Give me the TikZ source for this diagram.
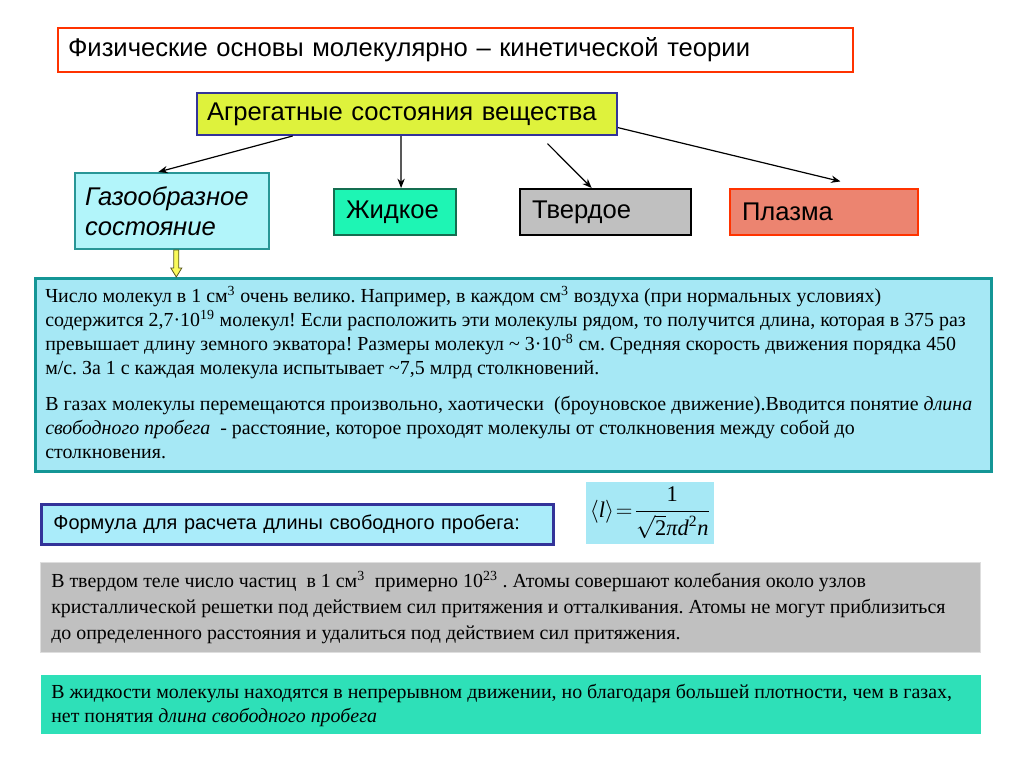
\documentclass[tikz,border=0pt]{standalone}
\usepackage{amsmath}
\usepackage{fontspec}
\setmainfont{Liberation Serif}
\setsansfont{Liberation Sans}
\usetikzlibrary{calc,arrows.meta}
\frenchspacing
\definecolor{titlered}{RGB}{255,51,0}
\definecolor{aggfill}{RGB}{222,242,60}
\definecolor{navy}{RGB}{51,51,153}
\definecolor{gasfill}{RGB}{178,245,250}
\definecolor{teal1}{RGB}{40,150,150}
\definecolor{liqfill}{RGB}{30,245,180}
\definecolor{liqdraw}{RGB}{20,110,80}
\definecolor{solfill}{RGB}{192,192,192}
\definecolor{plfill}{RGB}{236,132,112}
\definecolor{bigfill}{RGB}{166,232,245}
\definecolor{bigdraw}{RGB}{20,150,150}
\definecolor{formfill}{RGB}{170,236,250}
\definecolor{grayborder}{RGB}{222,222,222}
\definecolor{greenfill}{RGB}{46,224,184}
\definecolor{yfill}{RGB}{250,250,90}
\definecolor{ydraw}{RGB}{90,90,30}
\tikzset{
  box/.style={anchor=north west, align=left, inner ysep=0pt, line width=1.5pt},
  hdr/.style={font=\sffamily\fontsize{19.2}{23}\selectfont},
  lbl/.style={font=\sffamily\fontsize{19.2}{22.5}\selectfont},
  txt/.style={anchor=base west, inner sep=0pt, font=\fontsize{14.93}{18}\selectfont},
  conn/.style={-{Stealth[length=7pt,width=5.5pt]}, line width=0.9pt, black},
  yarrow/.style={fill=yfill, draw=ydraw, line width=0.6pt}
}
\begin{document}
\begin{tikzpicture}[x=0.75pt,y=-0.75pt]
\useasboundingbox (0,0) rectangle (1024,767);
\fill[white] (0,0) rectangle (1024,767);
% title
\node[box, hdr, draw=titlered, fill=white, minimum width=596.25pt, minimum height=33pt, text width=581.25pt, inner xsep=7.5pt] (title) at (57,27) {Физические основы молекулярно – кинетической теории};
% aggregate
\node[box, hdr, draw=navy, fill=aggfill, minimum width=315pt, minimum height=31.5pt, text width=300pt, inner xsep=7.5pt] (agg) at (196,92) {Агрегатные состояния вещества};
% states
\node[box, lbl, draw=teal1, fill=gasfill, minimum width=145.5pt, minimum height=57pt, text width=130.5pt, inner xsep=7.5pt, font=\sffamily\itshape\fontsize{19.2}{22.5}\selectfont] (gas) at (74,172) {Газообразное\\состояние};
\node[box, lbl, draw=liqdraw, fill=liqfill, minimum width=91.5pt, minimum height=34.5pt, text width=73.5pt, inner xsep=9pt] (liq) at (333,188) {Жидкое};
\node[box, lbl, draw=black, fill=solfill, minimum width=128.25pt, minimum height=34.5pt, text width=110.25pt, inner xsep=9pt] (sol) at (519,188) {Твердое};
\node[box, lbl, draw=titlered, fill=plfill, minimum width=141pt, minimum height=34.5pt, text width=123pt, inner xsep=9pt] (pl) at (729,188) {Плазма};
% connectors
\draw[conn] ($(agg.south west)!0.229!(agg.south east)$) -- ($(gas.north west)!0.43!(gas.north east)$);
\draw[conn] ($(agg.south west)!0.486!(agg.south east)$) -- ($(liq.north west)!0.549!(liq.north east)$);
\draw[conn, shorten <=8pt] ($(agg.south west)!0.815!(agg.south east)$) -- ($(sol.north west)!0.42!(sol.north east)$);
\draw[conn, shorten >=21pt] ($(agg.north east)!0.81!(agg.south east)$) -- ($(pl.north west)!0.73!(pl.north east)$);
% big box
\node[box, draw=bigdraw, fill=bigfill, line width=2.2pt, minimum width=717pt, minimum height=144.75pt, inner xsep=0pt] (big) at (34,277) {};
\coordinate (ya) at ($(gas.south west)!0.522!(gas.south east)$);
\coordinate (yb) at (ya |- big.north);
\draw[yarrow] ($(ya)+(-2.5,0)$) -- ($(yb)+(-2.5,-9)$) -- ($(yb)+(-5.5,-9)$) -- (yb) -- ($(yb)+(5.5,-9)$) -- ($(yb)+(2.5,-9)$) -- ($(ya)+(2.5,0)$) -- cycle;
\node[txt] (b1) at (45,302) {Число молекул в 1 см\textsuperscript{3} очень велико. Например, в каждом см\textsuperscript{3} воздуха (при нормальных условиях)};
\node[txt] (b2) at (45,326) {содержится 2,7·10\textsuperscript{19} молекул! Если расположить эти молекулы рядом, то получится длина, которая в 375 раз};
\node[txt] (b3) at (45,350) {превышает длину земного экватора! Размеры молекул \textasciitilde{} 3·10\textsuperscript{-8} см. Средняя скорость движения порядка 450};
\node[txt] (b4) at (45,374) {м/с. За 1 с каждая молекула испытывает \textasciitilde7,5 млрд столкновений.};
\node[txt] (b5) at (45,410) {В газах молекулы перемещаются произвольно, хаотически\ \ (броуновское движение).Вводится понятие \textit{длина}};
\node[txt] (b6) at (45,434) {\textit{свободного пробега}\ \ - расстояние, которое проходят молекулы от столкновения между собой до};
\node[txt] (b7) at (45,458) {столкновения.};
% formula
\node[box, draw=navy, fill=formfill, line width=2.2pt, minimum width=384pt, minimum height=30pt, text width=366pt, inner xsep=9pt, font=\sffamily\fontsize{14.93}{18}\selectfont] (flabel) at (40,503) {Формула для расчета длины свободного пробега:};
\node[box, fill=bigfill, minimum width=96pt, minimum height=46.5pt, inner xsep=0pt, align=center, font=\fontsize{16.8}{20}\selectfont] (fbox) at (585,481) {\thickmuskip=1.5mu$\displaystyle \langle\text{\itshape l}\rangle=\frac{\text{1}}{\sqrt{\text{2}}\text{\itshape πd}^{\text{2}}\text{\itshape n}}$};
% solid text
\node[box, draw=grayborder, fill=solfill, line width=1pt, minimum width=705pt, minimum height=67.5pt, inner xsep=0pt] (gray) at (40,562) {};
\node[txt] (g1) at (51,587) {В твердом теле число частиц\ \ в 1 см\textsuperscript{3}\ \ примерно 10\textsuperscript{23} . Атомы совершают колебания около узлов};
\node[txt] (g2) at (51,613) {кристаллической решетки под действием сил притяжения и отталкивания. Атомы не могут приблизиться};
\node[txt] (g3) at (51,639) {до определенного расстояния и удалиться под действием сил притяжения.};
% liquid text
\node[box, fill=greenfill, minimum width=705pt, minimum height=44.25pt, inner xsep=0pt] (green) at (40,674) {};
\node[txt] (l1) at (51,698) {В жидкости молекулы находятся в непрерывном движении, но благодаря большей плотности, чем в газах,};
\node[txt] (l2) at (51,722) {нет понятия \textit{длина свободного пробега}};
\end{tikzpicture}
\end{document}
